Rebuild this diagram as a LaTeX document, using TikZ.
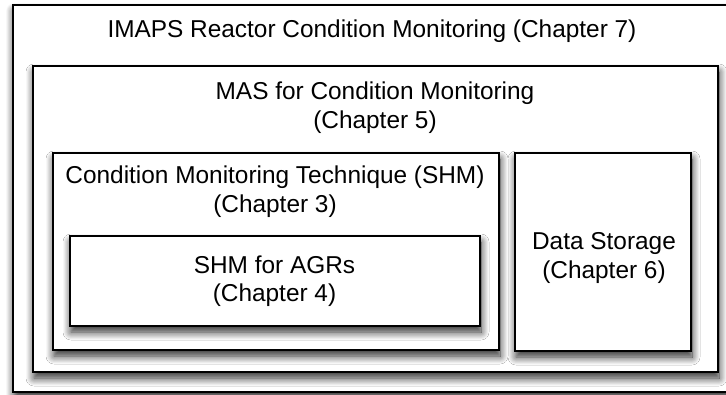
\documentclass[tikz,border=0pt]{standalone}
\usepackage{fontspec}
\setmainfont{Liberation Sans}
\usetikzlibrary{positioning,shadows.blur}

\begin{document}
\begin{tikzpicture}[
      x=1pt,y=-1pt,
      box/.style={rectangle,draw=black,line width=1.6pt,fill=white,inner sep=0pt,
        blur shadow={shadow xshift=1pt,shadow yshift=-6pt,shadow blur radius=8pt,shadow blur steps=12,shadow opacity=85}},
      chapter/.style={inner sep=0pt,align=center,font=\fontsize{24.4}{28.5}\selectfont}
      ]
      \clip (0,0) rectangle (726,394);
      \node[box,minimum width=719pt,minimum height=387pt] (imaps) at (372.5,198.5) {};
      \node[chapter] (imapstext) at (372,31.2) {IMAPS Reactor Condition Monitoring (Chapter 7)};
      \node[box,minimum width=685pt,minimum height=306pt] (mas) at (375.5,219) {};
      \node[chapter] (mastext) at (375,107.5) {MAS for Condition Monitoring\\(Chapter 5)};
      \node[box,minimum width=446pt,minimum height=197pt] (cmt) at (276,251.5) {};
      \node[chapter] (cmttext) at (275,191.7) {Condition Monitoring Technique (SHM)\\(Chapter 3)};
      \node[box,minimum width=410pt,minimum height=90pt] (agr) at (275,281) {};
      \node[chapter] (agrtext) at (274.5,281.4) {SHM for AGRs\\(Chapter 4)};
      \node[box,minimum width=176pt,minimum height=198pt] (store) at (603,252) {};
      \node[chapter] (storetext) at (604,257.9) {Data Storage\\(Chapter 6)};
\end{tikzpicture}
\end{document}
